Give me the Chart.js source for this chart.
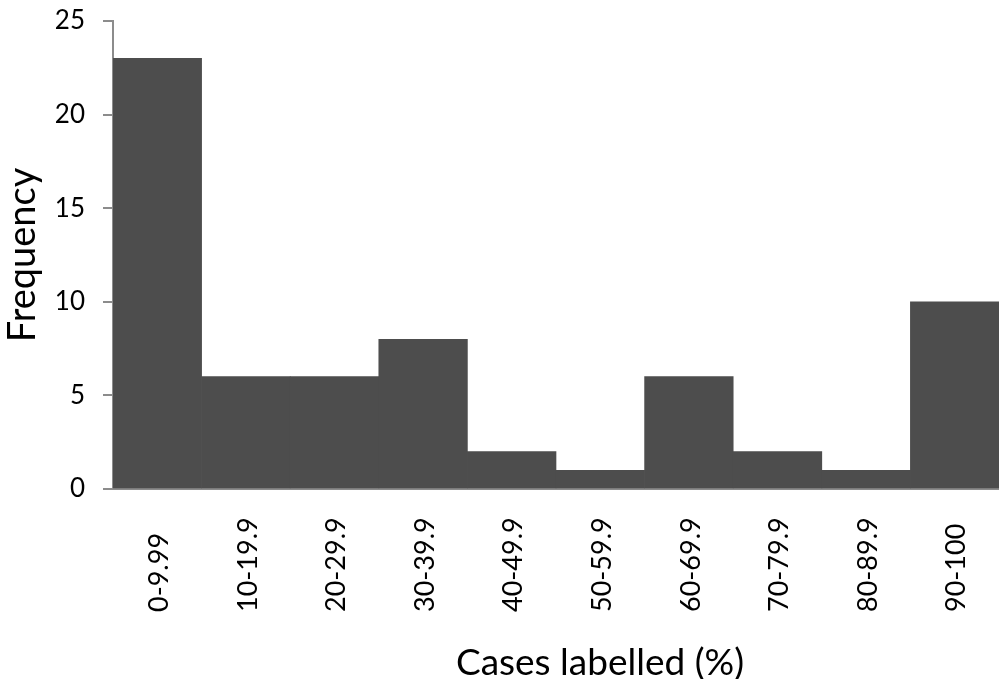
<!DOCTYPE html>
<html>
<head>
<meta charset="utf-8">
<script src="https://cdn.jsdelivr.net/npm/chart.js@4"></script>
<style>
  html, body { margin: 0; padding: 0; background: #fff; }
  #wrap { width: 999px; height: 679px; }
</style>
</head>
<body>
<div id="wrap"><canvas id="histChart"></canvas></div>
<script>
// bins and counts
const binLabels = ['0-9.99', '10-19.9', '20-29.9', '30-39.9', '40-49.9',
                   '50-59.9', '60-69.9', '70-79.9', '80-89.9', '90-100'];
const frequency = [23, 6, 6, 8, 2, 1, 6, 2, 1, 10];
const yTicks    = [0, 5, 10, 15, 20, 25];
const yTitle    = 'Frequency';
const xTitle    = 'Cases labelled (%)';

const FONT = 'Lato, "Open Sans", sans-serif';

// x labels read bottom-to-top with their starts lined up, so draw them by hand
const xLabelsPlugin = {
  id: 'xLabels',
  afterDraw(chart) {
    const ctx = chart.ctx;
    const xs = chart.scales.x;
    ctx.save();
    ctx.fillStyle = '#000';
    ctx.font = '27px ' + FONT;
    ctx.textAlign = 'left';
    ctx.textBaseline = 'middle';
    binLabels.forEach((lab, i) => {
      const px = xs.getPixelForTick(i);
      ctx.save();
      ctx.translate(px + 2, chart.chartArea.bottom + 123);
      ctx.rotate(-Math.PI / 2);
      ctx.fillText(lab, 0, 0);
      ctx.restore();
    });
    // axis title
    ctx.font = '37px ' + FONT;
    ctx.textAlign = 'center';
    ctx.fillText(xTitle, 600, 663);
    ctx.restore();
  }
};

const ctx = document.getElementById('histChart').getContext('2d');
new Chart(ctx, {
  type: 'bar',
  data: {
    labels: binLabels,
    datasets: [{
      data: frequency,
      backgroundColor: '#4d4d4d',
      borderWidth: 0,
      barPercentage: 1.0,
      categoryPercentage: 1.0
    }]
  },
  options: {
    responsive: true,
    maintainAspectRatio: false,
    animation: false,
    layout: { padding: { top: 21, right: 0, bottom: 182, left: 0 } },
    plugins: {
      legend: { display: false },
      tooltip: { enabled: false }
    },
    scales: {
      x: {
        grid: { display: false },
        border: { display: true, color: '#8c8c8c', width: 2 },
        ticks: { display: false }
      },
      y: {
        min: 0,
        max: 25,
        afterBuildTicks: s => { s.ticks = yTicks.map(v => ({ value: v })); },
        afterFit: s => {
          s.width = 113;
          s.paddingTop = 0;
          s.paddingBottom = 0;
        },
        grid: {
          drawOnChartArea: false,
          drawTicks: true,
          tickLength: 10,
          color: '#8c8c8c',
          lineWidth: 2
        },
        border: { display: true, color: '#8c8c8c', width: 2 },
        ticks: {
          color: '#000',
          padding: 18,
          font: { family: FONT, size: 26 }
        },
        title: {
          display: true,
          text: yTitle,
          color: '#000',
          font: { family: FONT, size: 38 },
          padding: { top: 0, bottom: 0 }
        }
      }
    }
  },
  plugins: [xLabelsPlugin]
});
</script>
</body>
</html>
